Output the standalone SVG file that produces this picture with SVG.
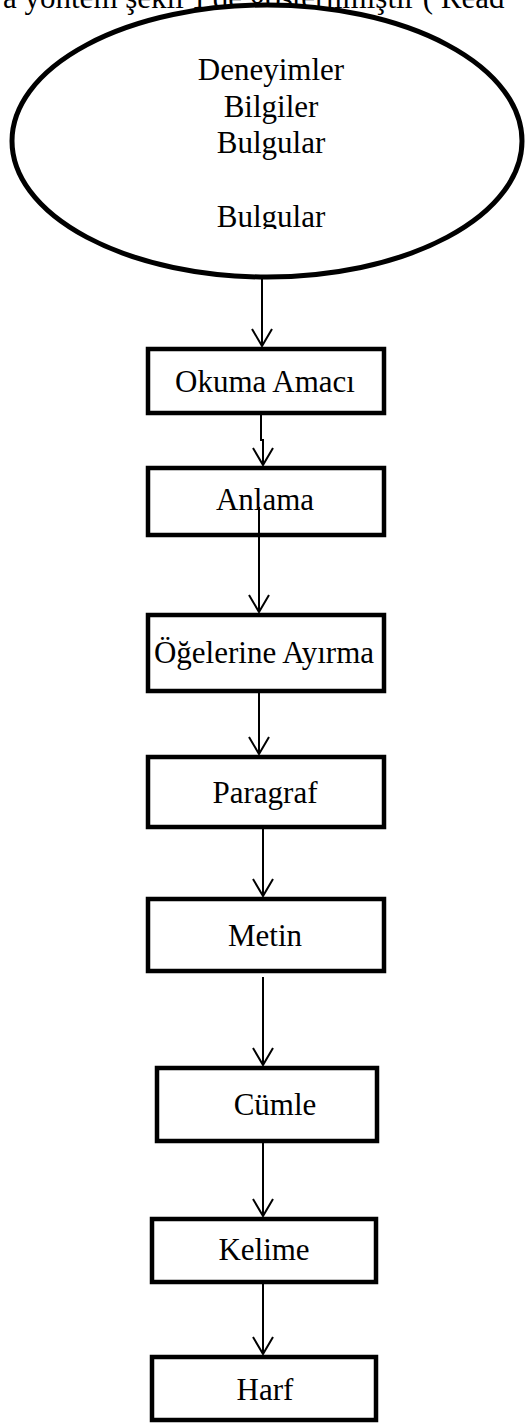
<svg xmlns="http://www.w3.org/2000/svg" width="526" height="1423" viewBox="0 0 526 1423">
<defs>
<style>
.t{font-family:"Liberation Serif","Times New Roman",serif;font-size:31px;fill:#000;text-anchor:middle}
.box{fill:#fff;stroke:#000;stroke-width:4.5}
.c{fill:none;stroke:#000;stroke-width:2}
</style>
<marker id="ah" viewBox="0 -11 20 22" refX="18" refY="0" markerWidth="20" markerHeight="22" markerUnits="userSpaceOnUse" orient="auto">
<path d="M1,-10 L18,0 L1,10" fill="none" stroke="#000" stroke-width="2"/>
</marker>
<clipPath id="clipB"><rect x="0" y="0" width="526" height="229"/></clipPath>
</defs>
<rect width="526" height="1423" fill="#fff"/>
<text x="3" y="8" style="font-family:'Liberation Serif','Times New Roman',serif;font-size:31px">a yöntem şekil 1'de gösterilmiştir ( Read</text>
<g id="n0">
<ellipse cx="267" cy="141" rx="255" ry="136" fill="#fff" stroke="#000" stroke-width="5"/>
<text class="t" x="271" y="80">Deneyimler</text>
<text class="t" x="271" y="117">Bilgiler</text>
<text class="t" x="271" y="153">Bulgular</text>
<text class="t" x="271" y="227" clip-path="url(#clipB)">Bulgular</text>
</g>
<g id="n1"><rect class="box" x="148" y="349" width="236" height="64"/><text class="t" x="265" y="392">Okuma Amacı</text></g>
<g id="n2"><rect class="box" x="148" y="468" width="236" height="67"/><text class="t" x="265" y="510">Anlama</text></g>
<g id="n3"><rect class="box" x="148" y="615" width="236" height="76"/><text class="t" x="264" y="663">Öğelerine Ayırma</text></g>
<g id="n4"><rect class="box" x="148" y="757" width="236" height="70"/><text class="t" x="265" y="803">Paragraf</text></g>
<g id="n5"><rect class="box" x="148" y="899" width="236" height="72"/><text class="t" x="265" y="946">Metin</text></g>
<g id="n6"><rect class="box" x="157" y="1068" width="220" height="73"/><text class="t" x="275" y="1115">Cümle</text></g>
<g id="n7"><rect class="box" x="152" y="1219" width="224" height="63"/><text class="t" x="264" y="1260">Kelime</text></g>
<g id="n8"><rect class="box" x="152" y="1357" width="224" height="63"/><text class="t" x="265" y="1400">Harf</text></g>
<g id="connectors">
<path class="c" d="M262 278 V346" marker-end="url(#ah)"/>
<path class="c" d="M261 413 V440 H263 V465" marker-end="url(#ah)"/>
<path class="c" d="M259 507 V612" marker-end="url(#ah)"/>
<path class="c" d="M259 691 V754" marker-end="url(#ah)"/>
<path class="c" d="M263 827 V896" marker-end="url(#ah)"/>
<path class="c" d="M263 977 V1065" marker-end="url(#ah)"/>
<path class="c" d="M263 1141 V1216" marker-end="url(#ah)"/>
<path class="c" d="M263 1282 V1354" marker-end="url(#ah)"/>
</g>
</svg>
